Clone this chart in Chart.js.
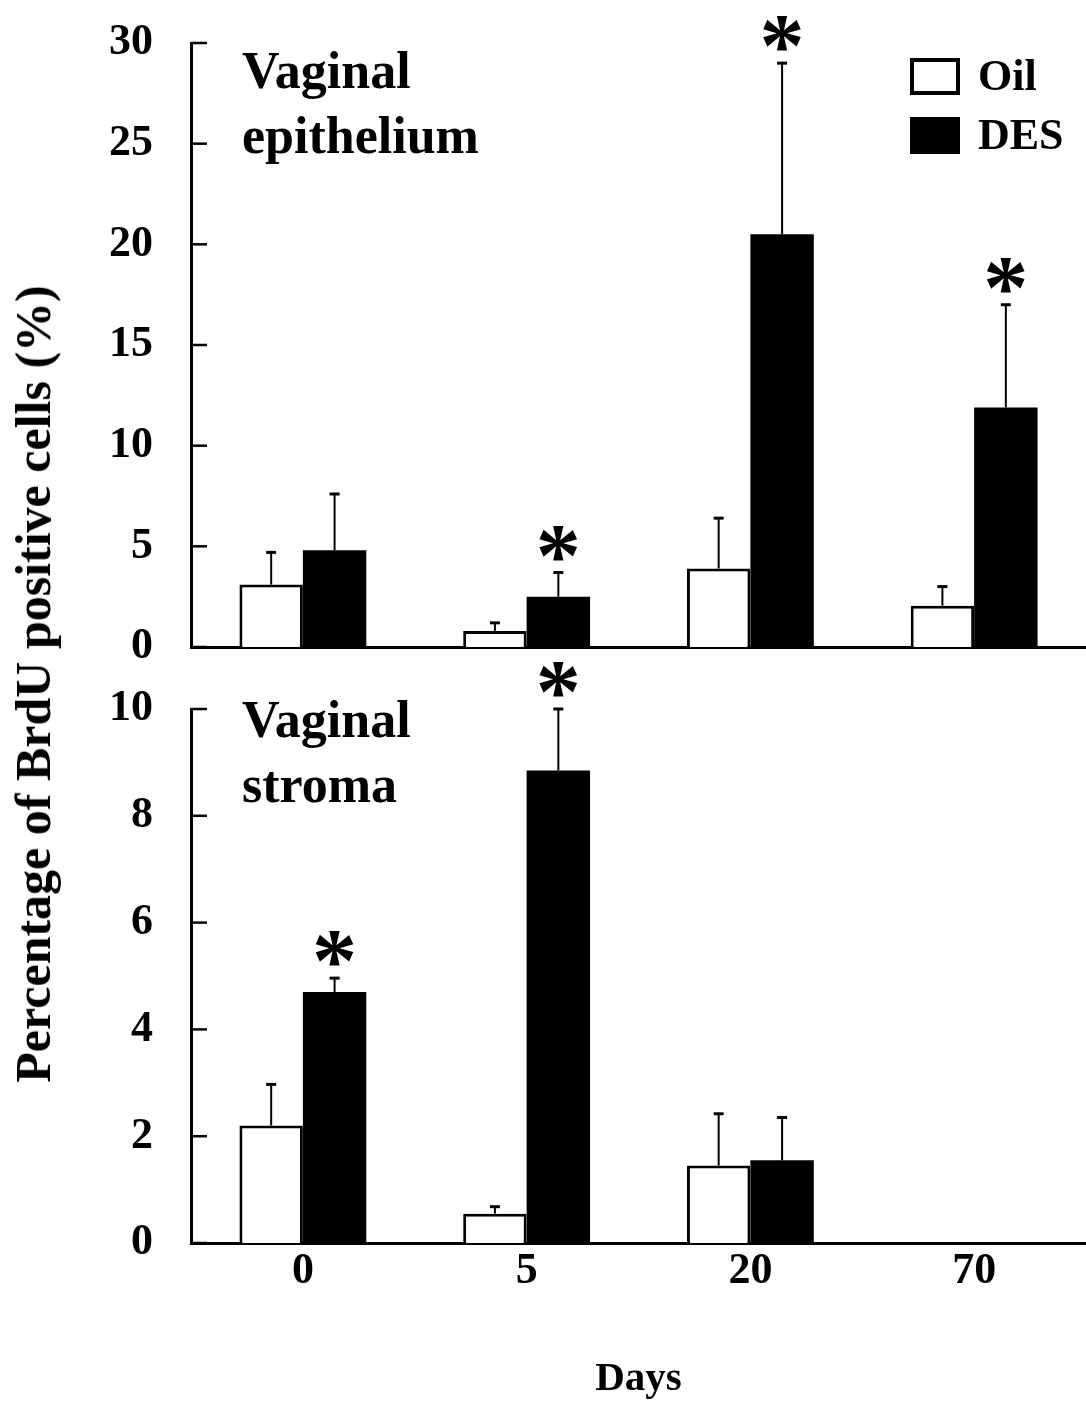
<!DOCTYPE html>
<html>
<head>
<meta charset="utf-8">
<script src="https://cdn.jsdelivr.net/npm/chart.js@4.4.1/dist/chart.umd.min.js"></script>
<style>
  html, body { margin:0; padding:0; background:#fff; }
  #wrap { position:relative; width:1086px; height:1407px; overflow:hidden; }
  #wrap canvas { position:absolute; left:0; }
  #epi { top:0; }
  #str { top:620px; }
  #ytitle {
    position:absolute; left:33px; top:684px;
    transform:translate(-50%,-50%) rotate(-90deg);
    white-space:nowrap; color:#000;
    font:bold 50px "Liberation Serif","Times New Roman",serif;
  }
</style>
</head>
<body>
<div id="wrap">
  <canvas id="epi" width="1086" height="680"></canvas>
  <canvas id="str" width="1086" height="787"></canvas>
  <div id="ytitle">Percentage of BrdU positive cells (%)</div>
</div>
<script>
const SERIF = '"Liberation Serif", "Times New Roman", serif';

const days = ['0', '5', '20', '70'];

// vaginal epithelium, mean and SEM
const epiOil    = [3.1, 0.8, 3.9, 2.05];
const epiOilSem = [1.6, 0.4, 2.5, 0.95];
const epiDes    = [4.8, 2.5, 20.5, 11.9];
const epiDesSem = [2.8, 1.2, 8.5, 5.1];
const epiDesSig = [false, true, true, true];

// vaginal stroma, no day 70 group
const strOil    = [2.2, 0.55, 1.45, null];
const strOilSem = [0.77, 0.13, 0.97, null];
const strDes    = [4.7, 8.85, 1.55, null];
const strDesSem = [0.26, 1.15, 0.8, null];
const strDesSig = [true, true, false, false];

const epiRange = { min:0, max:30, step:5 };
const strRange = { min:0, max:10, step:2 };

// upper SEM whisker + significance star
const semBars = {
  id: 'semBars',
  afterDatasetsDraw(chart, args, opts){
    const { ctx } = chart, y = chart.scales.y;
    ctx.save();
    ctx.strokeStyle = '#000'; ctx.fillStyle = '#000';
    chart.data.datasets.forEach((ds, di) => {
      const meta = chart.getDatasetMeta(di);
      const errs = (opts.errors || [])[di] || [];
      const sig  = (opts.sig || [])[di] || [];
      meta.data.forEach((bar, i) => {
        const v = ds.data[i], e = errs[i];
        if (v == null || e == null) return;
        const yTop = y.getPixelForValue(v + e);
        ctx.lineWidth = 2;
        ctx.beginPath(); ctx.moveTo(bar.x, bar.y); ctx.lineTo(bar.x, yTop); ctx.stroke();
        ctx.lineWidth = 3;
        ctx.beginPath(); ctx.moveTo(bar.x - 5, yTop); ctx.lineTo(bar.x + 5, yTop); ctx.stroke();
        if (sig[i]) {
          ctx.font = `bold 90px ${SERIF}`;
          ctx.textAlign = 'center'; ctx.textBaseline = 'alphabetic';
          const m = ctx.measureText('*');
          ctx.fillText('*', bar.x, yTop - 12 - m.actualBoundingBoxDescent);
        }
      });
    });
    ctx.restore();
  }
};

// ticks pointing into the plot
const innerTicks = {
  id: 'innerTicks',
  afterDraw(chart){
    const { ctx } = chart, y = chart.scales.y;
    ctx.save();
    ctx.strokeStyle = '#000'; ctx.lineWidth = 2.5;
    y.ticks.forEach(t => {
      const py = y.getPixelForValue(t.value);
      ctx.beginPath(); ctx.moveTo(y.right, py); ctx.lineTo(y.right + 16, py); ctx.stroke();
    });
    ctx.restore();
  }
};

const panelLabel = {
  id: 'panelLabel',
  afterDraw(chart, args, opts){
    if (!opts.lines) return;
    const { ctx, chartArea } = chart;
    ctx.save();
    ctx.fillStyle = '#000';
    ctx.font = `bold 52px ${SERIF}`;
    ctx.textAlign = 'left'; ctx.textBaseline = 'alphabetic';
    opts.lines.forEach((t, k) => ctx.fillText(t, chartArea.left + opts.dx, chartArea.top + opts.dy + k * opts.lh));
    ctx.restore();
  }
};

const boxLegend = {
  id: 'boxLegend',
  afterDraw(chart, args, opts){
    if (!opts.show) return;
    const { ctx, chartArea } = chart;
    const x = chartArea.right - opts.fromRight;
    ctx.save();
    chart.data.datasets.forEach((ds, i) => {
      const y = chartArea.top + opts.dy + i * opts.gap;
      ctx.fillStyle = ds.backgroundColor;
      ctx.fillRect(x, y, opts.w, opts.h);
      if (ds.borderWidth) {
        ctx.lineWidth = 4; ctx.strokeStyle = ds.borderColor;
        ctx.strokeRect(x + 2, y + 2, opts.w - 4, opts.h - 4);
      }
      ctx.fillStyle = '#000';
      ctx.font = `bold 44px ${SERIF}`;
      ctx.textAlign = 'left'; ctx.textBaseline = 'middle';
      ctx.fillText(ds.label, x + opts.w + 18, y + opts.h / 2 + 2);
    });
    ctx.restore();
  }
};

function barSets(oil, des){
  return [
    { label:'Oil', data:oil, backgroundColor:'#fff', borderColor:'#000', borderWidth:3, borderSkipped:'start' },
    { label:'DES', data:des, backgroundColor:'#000', borderColor:'#000', borderWidth:0 }
  ];
}

const tickFont = { family:SERIF, size:44, weight:'bold' };

function yScale(r){
  return {
    min:r.min, max:r.max,
    ticks:{ stepSize:r.step, color:'#000', font:tickFont, padding:38 },
    grid:{ display:false, drawTicks:false },
    border:{ color:'#000', width:3 },
    afterFit(s){ s.width = 191; s.paddingTop = 0; s.paddingBottom = 0; }
  };
}

function makeChart(id, oil, des, oilSem, desSem, sig, range, showX, extra){
  return new Chart(document.getElementById(id), {
    type:'bar',
    data:{ labels:days, datasets:barSets(oil, des) },
    options:{
      responsive:false, maintainAspectRatio:false, animation:false,
      layout:{ padding: extra.padding },
      datasets:{ bar:{ categoryPercentage:0.567, barPercentage:1 } },
      scales:{
        x:{
          ticks:{ display:showX, color:'#000', font:tickFont, padding:2 },
          grid:{ display:false, drawTicks:false },
          border:{ color:'#000', width:3 },
          title:{ display:showX, text:'Days', color:'#000', font:{ family:SERIF, size:41, weight:'bold' }, padding:3 },
          afterFit(s){ s.height = extra.xHeight; s.paddingLeft = 0; s.paddingRight = 0; }
        },
        y: yScale(range)
      },
      plugins:{
        legend:{ display:false },
        tooltip:{ enabled:false },
        semBars:{ errors:[oilSem, desSem], sig:[null, sig] },
        panelLabel: extra.label,
        boxLegend: extra.legend || { show:false }
      }
    },
    plugins:[semBars, innerTicks, panelLabel, boxLegend]
  });
}

makeChart('epi', epiOil, epiDes, epiOilSem, epiDesSem, epiDesSig, epiRange, false, {
  padding:{ top:43, right:0, bottom:33, left:0 },
  xHeight:0,
  label:{ lines:['Vaginal', 'epithelium'], dx:51, dy:45, lh:65 },
  legend:{ show:true, fromRight:176, dy:15, gap:59, w:50, h:37 }
});

// canvas starts at 620 so the star over day 5 is not clipped
makeChart('str', strOil, strDes, strOilSem, strDesSem, strDesSig, strRange, true, {
  padding:{ top:89, right:0, bottom:0, left:0 },
  xHeight:164,
  label:{ lines:['Vaginal', 'stroma'], dx:51, dy:28, lh:65 }
});
</script>
</body>
</html>
